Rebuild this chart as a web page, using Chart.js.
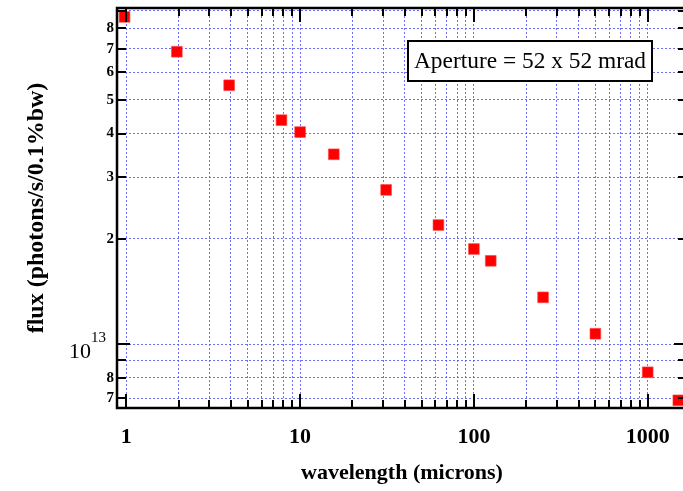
<!DOCTYPE html>
<html>
<head>
<meta charset="utf-8">
<script src="https://cdn.jsdelivr.net/npm/chart.js@4/dist/chart.umd.min.js"></script>
<style>
  html, body { margin: 0; padding: 0; overflow: hidden; background: #fff; }
  #wrap { width: 683px; height: 491px; overflow: hidden; position: relative; }
  canvas { display: block; position: absolute; left: 0; top: 0; }
</style>
</head>
<body>
<div id="wrap"><canvas id="c" width="690" height="491"></canvas></div>
<script>
// Measured flux per wavelength
const wavelengths = [0.977, 1.953, 3.906, 7.8125, 10, 15.625, 31.25, 62.5, 100, 125, 250, 500, 1000, 1500];
const fluxValues = [8.63e13, 6.86e13, 5.5e13, 4.37e13, 4.04e13, 3.49e13, 2.76e13, 2.19e13, 1.87e13, 1.73e13, 1.36e13, 1.07e13, 8.3e12, 6.9e12];

// Axis ticks
const xDecades = [1, 10, 100, 1000];
const xTickLabels = ['1', '10', '100', '1000'];
const xMultipliers = [1, 2, 3, 4, 5, 6, 7, 8, 9];
const yTickValues = [7e12, 8e12, 9e12, 1e13, 2e13, 3e13, 4e13, 5e13, 6e13, 7e13, 8e13, 9e13];
const yTickLabels = ['7', '8', '', '', '2', '3', '4', '5', '6', '7', '8', ''];
const yMajorValues = [1e13];
const yDecadeBase = '10';
const yDecadeExp = '13';
const apertureText = 'Aperture = 52 x 52 mrad';

const X_MIN = 0.884, X_MAX = 1683;
const Y_MIN = 6.56e12, Y_MAX = 9.15e13;

// Canvas size and plot frame edges (the right edge runs just past the visible page)
const W = 690, H = 491;
const AREA = { left: 117, top: 8, right: 687, bottom: 408 };

const xTickValues = [];
xDecades.forEach(d => xMultipliers.forEach(m => {
  const v = d * m;
  if (v >= X_MIN && v <= X_MAX) xTickValues.push(v);
}));

const SERIF = '"Liberation Serif", "Times New Roman", serif';
const gridColor = 'rgba(85, 85, 255, 0.85)';

const decorations = {
  id: 'decorations',
  afterDatasetsDraw(chart) {
    const ctx = chart.ctx;
    const area = chart.chartArea;
    const xs = chart.scales.x, ys = chart.scales.y;
    ctx.save();

    // tick marks pointing inward on all four sides
    ctx.strokeStyle = '#000';
    ctx.lineWidth = 2;
    xTickValues.forEach(v => {
      const px = Math.round(xs.getPixelForValue(v));
      const len = xDecades.includes(v) ? 14 : 8;
      ctx.beginPath();
      ctx.moveTo(px, area.bottom); ctx.lineTo(px, area.bottom - len);
      ctx.moveTo(px, area.top); ctx.lineTo(px, area.top + len);
      ctx.stroke();
    });
    yTickValues.forEach(v => {
      const py = Math.round(ys.getPixelForValue(v));
      const len = yMajorValues.includes(v) ? 13 : 9;
      ctx.beginPath();
      ctx.moveTo(area.left, py); ctx.lineTo(area.left + len, py);
      ctx.moveTo(area.right, py); ctx.lineTo(area.right - len, py);
      ctx.stroke();
    });

    // plot frame
    ctx.lineWidth = 2.5;
    ctx.strokeRect(area.left, area.top, area.right - area.left, area.bottom - area.top);

    // decade label with superscript exponent
    const py = ys.getPixelForValue(1e13);
    ctx.fillStyle = '#000';
    ctx.textBaseline = 'alphabetic';
    ctx.textAlign = 'right';
    ctx.font = '15px ' + SERIF;
    ctx.fillText(yDecadeExp, 106, py - 2);
    const expW = ctx.measureText(yDecadeExp).width;
    ctx.font = '22px ' + SERIF;
    ctx.fillText(yDecadeBase, 106 - expW, py + 14);

    // annotation box
    const bx = 408, by = 41, bw = 244, bh = 40;
    ctx.fillStyle = '#fff';
    ctx.fillRect(bx, by, bw, bh);
    ctx.lineWidth = 2;
    ctx.strokeStyle = '#000';
    ctx.strokeRect(bx, by, bw, bh);
    ctx.fillStyle = '#000';
    ctx.textAlign = 'center';
    ctx.textBaseline = 'middle';
    ctx.font = '23.4px ' + SERIF;
    ctx.fillText(apertureText, bx + bw / 2, by + bh / 2 + 1);

    ctx.restore();
  }
};

new Chart(document.getElementById('c'), {
  type: 'scatter',
  data: {
    datasets: [{
      data: wavelengths.map((w, i) => ({ x: w, y: fluxValues[i] })),
      pointStyle: 'rect',
      pointRadius: 7.6,
      pointHoverRadius: 7.6,
      backgroundColor: '#ff0000',
      borderColor: 'rgba(255, 70, 70, 0.6)',
      borderWidth: 1,
      showLine: false,
      clip: false
    }]
  },
  options: {
    responsive: false,
    devicePixelRatio: 1,
    animation: false,
    events: [],
    layout: {
      autoPadding: false,
      padding: { top: AREA.top, right: W - AREA.right, left: 0, bottom: 0 }
    },
    plugins: { legend: { display: false }, tooltip: { enabled: false } },
    scales: {
      x: {
        type: 'logarithmic',
        position: 'bottom',
        min: X_MIN,
        max: X_MAX,
        afterBuildTicks: s => { s.ticks = xTickValues.map(v => ({ value: v })); },
        afterFit: s => {
          s.height = H - AREA.bottom;
          s.paddingLeft = 0;
          s.paddingRight = 0;
        },
        grid: { color: gridColor, lineWidth: 1, drawTicks: false },
        border: { display: false, dash: [2, 2] },
        ticks: {
          autoSkip: false,
          maxRotation: 0,
          padding: 16,
          color: '#000',
          font: { family: SERIF, size: 22, weight: 'bold' },
          callback: v => {
            const i = xDecades.indexOf(v);
            return i >= 0 ? xTickLabels[i] : '';
          }
        },
        title: {
          display: true,
          text: 'wavelength (microns)',
          color: '#000',
          font: { family: SERIF, size: 22, weight: 'bold' },
          padding: { top: 0, bottom: 4 }
        }
      },
      y: {
        type: 'logarithmic',
        position: 'left',
        min: Y_MIN,
        max: Y_MAX,
        afterBuildTicks: s => { s.ticks = yTickValues.map(v => ({ value: v })); },
        afterFit: s => {
          s.width = AREA.left;
          s.paddingTop = 0;
          s.paddingBottom = 0;
        },
        grid: { color: gridColor, lineWidth: 1, drawTicks: false },
        border: { display: false, dash: [2, 2] },
        ticks: {
          autoSkip: false,
          padding: 3,
          color: '#000',
          font: { family: SERIF, size: 15, weight: 'bold' },
          callback: v => {
            const i = yTickValues.indexOf(v);
            return i >= 0 ? yTickLabels[i] : '';
          }
        },
        title: {
          display: true,
          text: 'flux (photons/s/0.1%bw)',
          color: '#000',
          font: { family: SERIF, size: 24, weight: 'bold' },
          padding: { top: 22, bottom: 0 }
        }
      }
    }
  },
  plugins: [decorations]
});
</script>
</body>
</html>
